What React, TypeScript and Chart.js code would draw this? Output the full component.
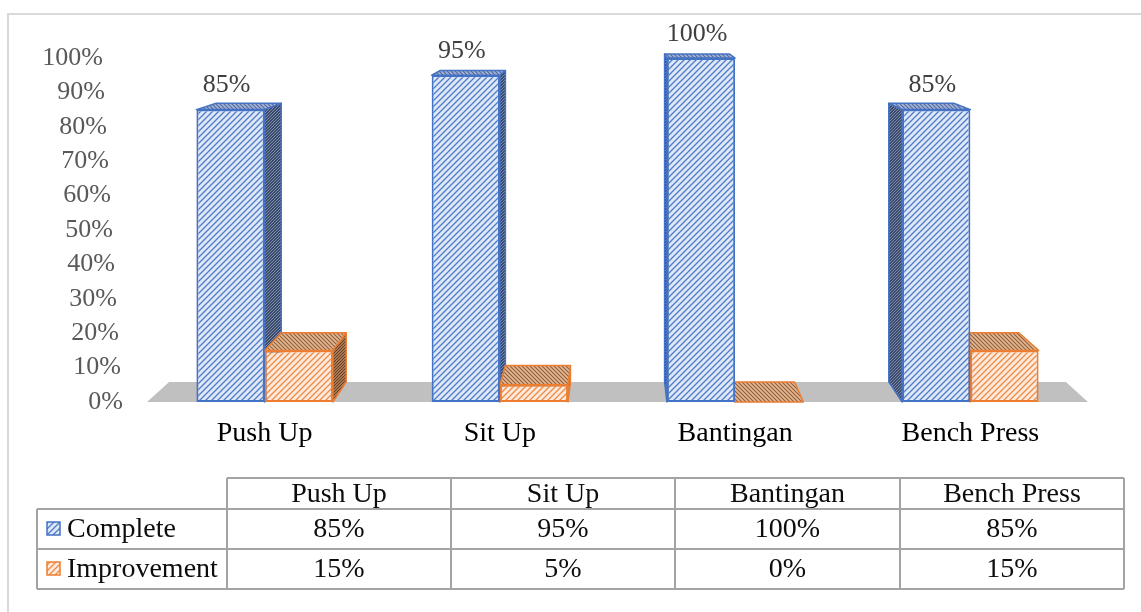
import React, { useEffect, useRef } from 'react';
import { Chart, registerables } from 'chart.js';

Chart.register(...registerables);

const categories = ['Push Up', 'Sit Up', 'Bantingan', 'Bench Press'];
const completeValues = [85, 95, 100, 85];
const improvementValues = [15, 5, 0, 15];
const seriesNames = ['Complete', 'Improvement'];
const yMin = 0;
const yMax = 100;
const yStep = 10;

const FONT = '"Liberation Serif", "Times New Roman", serif';
const BLUE = '#4472c4';
const ORANGE = '#ed7d31';

function makeHatch(bg: string, fg: string, size: number, dir: '/' | '\\', lw: number) {
  const c = document.createElement('canvas');
  c.width = size;
  c.height = size;
  const x = c.getContext('2d')!;
  x.fillStyle = bg;
  x.fillRect(0, 0, size, size);
  x.strokeStyle = fg;
  x.lineWidth = lw;
  x.beginPath();
  if (dir === '/') {
    x.moveTo(-1, size + 1); x.lineTo(size + 1, -1);
    x.moveTo(-1, 1); x.lineTo(1, -1);
    x.moveTo(size - 1, size + 1); x.lineTo(size + 1, size - 1);
  } else {
    x.moveTo(-1, -1); x.lineTo(size + 1, size + 1);
    x.moveTo(size - 1, -1); x.lineTo(size + 1, 1);
    x.moveTo(-1, size - 1); x.lineTo(1, size + 1);
  }
  x.stroke();
  return x.createPattern(c, 'repeat')!;
}

export default function App() {
  const ref = useRef<HTMLCanvasElement>(null);

  useEffect(() => {
    const canvas = ref.current!;
    const pats = {
      blueFront: makeHatch('#dfe8f7', '#4f7bcb', 6, '/', 1.3),
      blueTop: makeHatch('#a3b4d8', '#52689a', 4, '\\', 1.1),
      blueSide: makeHatch('#3b4a68', '#8595ba', 3, '/', 0.9),
      orangeFront: makeHatch('#fdeadc', '#ef8a45', 6, '/', 1.3),
      orangeTop: makeHatch('#e3b792', '#8f5f3b', 4, '\\', 1.1),
      orangeSide: makeHatch('#a97650', '#5e3b22', 3, '/', 0.9),
    };
    const faceStyles = [
      { top: pats.blueTop, side: pats.blueSide, border: BLUE },
      { top: pats.orangeTop, side: pats.orangeSide, border: ORANGE },
    ];
    const K = 0.047;

    const threeD = {
      id: 'threeD',
      beforeDatasetsDraw(chart: any) {
        const ctx = chart.ctx as CanvasRenderingContext2D;
        const a = chart.chartArea;
        const vp = { x: (a.left + a.right) / 2, y: a.top - 83 };
        const sh = (px: number, py: number) => [px + K * (vp.x - px), py + K * (vp.y - py)];
        const quad = (pts: number[][], fill: any, stroke: string | null, lw = 1.5) => {
          ctx.beginPath();
          ctx.moveTo(pts[0][0], pts[0][1]);
          for (let i = 1; i < pts.length; i++) ctx.lineTo(pts[i][0], pts[i][1]);
          ctx.closePath();
          ctx.fillStyle = fill;
          ctx.fill();
          if (stroke) {
            ctx.strokeStyle = stroke;
            ctx.lineWidth = lw;
            ctx.lineJoin = 'round';
            ctx.stroke();
          }
        };
        ctx.save();
        // floor
        const fl = [a.left, a.bottom];
        const fr = [a.right, a.bottom];
        quad([fl, fr, sh(fr[0], fr[1]), sh(fl[0], fl[1])], '#c0c0c0', null);
        for (let i = 0; i < categories.length; i++) {
          for (let d = 0; d < chart.data.datasets.length; d++) {
            const bar = chart.getDatasetMeta(d).data[i];
            const p = bar.getProps(['x', 'y', 'base', 'width'], true);
            const L = p.x - p.width / 2;
            const R = p.x + p.width / 2;
            const T = Math.min(p.y, p.base);
            const B = Math.max(p.y, p.base);
            const st = faceStyles[d];
            if (vp.x > R) {
              quad([[R, T], [R, B], sh(R, B), sh(R, T)], st.side, st.border);
            } else if (vp.x < L) {
              quad([[L, T], [L, B], sh(L, B), sh(L, T)], st.side, st.border);
            }
            quad([[L, T], [R, T], sh(R, T), sh(L, T)], st.top, st.border);
          }
        }
        ctx.restore();
      },
      afterDatasetsDraw(chart: any) {
        const ctx = chart.ctx as CanvasRenderingContext2D;
        ctx.save();
        ctx.font = `26px ${FONT}`;
        ctx.fillStyle = '#404040';
        ctx.textAlign = 'center';
        ctx.textBaseline = 'middle';
        const meta = chart.getDatasetMeta(0);
        meta.data.forEach((bar: any, i: number) => {
          const p = bar.getProps(['x', 'y'], true);
          ctx.fillText(`${completeValues[i]}%`, p.x - 4, p.y - 24);
        });
        ctx.restore();
      },
      afterDraw(chart: any) {
        const ctx = chart.ctx as CanvasRenderingContext2D;
        const a = chart.chartArea;
        ctx.save();
        // outer border
        ctx.strokeStyle = '#d9d9d9';
        ctx.lineWidth = 2;
        ctx.beginPath();
        ctx.moveTo(8, 612);
        ctx.lineTo(8, 14);
        ctx.lineTo(1141, 14);
        ctx.stroke();

        // y tick labels (slanted back wall)
        const ys = chart.scales.y;
        ctx.font = `26px ${FONT}`;
        ctx.fillStyle = '#595959';
        ctx.textAlign = 'right';
        ctx.textBaseline = 'middle';
        ys.ticks.forEach((t: any) => {
          const py = ys.getPixelForValue(t.value);
          const xr = a.left - 44 + 20 * (py - a.top) / (a.bottom - a.top);
          ctx.fillText(`${t.value}%`, xr, py);
        });

        // data table
        const colX = [227, 451, 675, 900, 1124];
        const rowY = [478, 509, 549, 589];
        const labelLeft = 37;
        ctx.strokeStyle = '#a3a3a3';
        ctx.lineWidth = 2;
        ctx.beginPath();
        ctx.moveTo(colX[0], rowY[0]); ctx.lineTo(colX[4], rowY[0]);
        for (let r = 1; r < rowY.length; r++) {
          ctx.moveTo(labelLeft, rowY[r]); ctx.lineTo(colX[4], rowY[r]);
        }
        colX.forEach((cx) => { ctx.moveTo(cx, rowY[0]); ctx.lineTo(cx, rowY[3]); });
        ctx.moveTo(labelLeft, rowY[1]); ctx.lineTo(labelLeft, rowY[3]);
        ctx.stroke();

        ctx.fillStyle = '#0d0d0d';
        ctx.textAlign = 'center';
        ctx.font = `28px ${FONT}`;
        categories.forEach((c, i) => {
          ctx.fillText(c, (colX[i] + colX[i + 1]) / 2, (rowY[0] + rowY[1]) / 2 + 1);
        });
        const rows = [completeValues, improvementValues];
        rows.forEach((vals, r) => {
          const cy = (rowY[r + 1] + rowY[r + 2]) / 2 + 1;
          vals.forEach((v, i) => {
            ctx.fillText(`${v}%`, (colX[i] + colX[i + 1]) / 2, cy);
          });
          // legend key
          const icon = r === 0 ? pats.blueFront : pats.orangeFront;
          const border = r === 0 ? BLUE : ORANGE;
          ctx.fillStyle = icon;
          ctx.fillRect(47, cy - 8, 13, 13);
          ctx.strokeStyle = border;
          ctx.lineWidth = 1.5;
          ctx.strokeRect(47, cy - 8, 13, 13);
          ctx.fillStyle = '#0d0d0d';
          ctx.textAlign = 'left';
          ctx.fillText(seriesNames[r], 67, cy);
          ctx.textAlign = 'center';
        });
        ctx.restore();
      },
    };

    const chart = new Chart(canvas, {
      type: 'bar',
      data: {
        labels: categories,
        datasets: [
          {
            label: seriesNames[0],
            data: completeValues,
            backgroundColor: pats.blueFront,
            borderColor: BLUE,
            borderWidth: 2,
            borderSkipped: false,
          },
          {
            label: seriesNames[1],
            data: improvementValues,
            backgroundColor: pats.orangeFront,
            borderColor: ORANGE,
            borderWidth: 2,
            borderSkipped: false,
          },
        ],
      },
      options: {
        responsive: false,
        animation: false,
        events: [],
        devicePixelRatio: 1,
        layout: { padding: { top: 58, right: 53, bottom: 140, left: 0 } },
        datasets: { bar: { categoryPercentage: 0.58, barPercentage: 1 } },
        plugins: { legend: { display: false }, tooltip: { enabled: false } },
        scales: {
          x: {
            grid: { display: false, drawTicks: false },
            border: { display: false },
            ticks: { font: { family: FONT, size: 28 }, color: '#000000', padding: 15 },
            afterFit(s: any) { s.height = 70; },
          },
          y: {
            min: yMin,
            max: yMax,
            ticks: { stepSize: yStep, display: false },
            grid: { display: false, drawTicks: false },
            border: { display: false },
            afterFit(s: any) { s.width = 147; },
          },
        },
      } as any,
      plugins: [threeD],
    });
    return () => chart.destroy();
  }, []);

  return (
    <div style={{ position: 'absolute', left: 0, top: 0, width: 1141, height: 612, background: '#ffffff' }}>
      <canvas ref={ref} width={1141} height={612} style={{ display: 'block' }} />
    </div>
  );
}
